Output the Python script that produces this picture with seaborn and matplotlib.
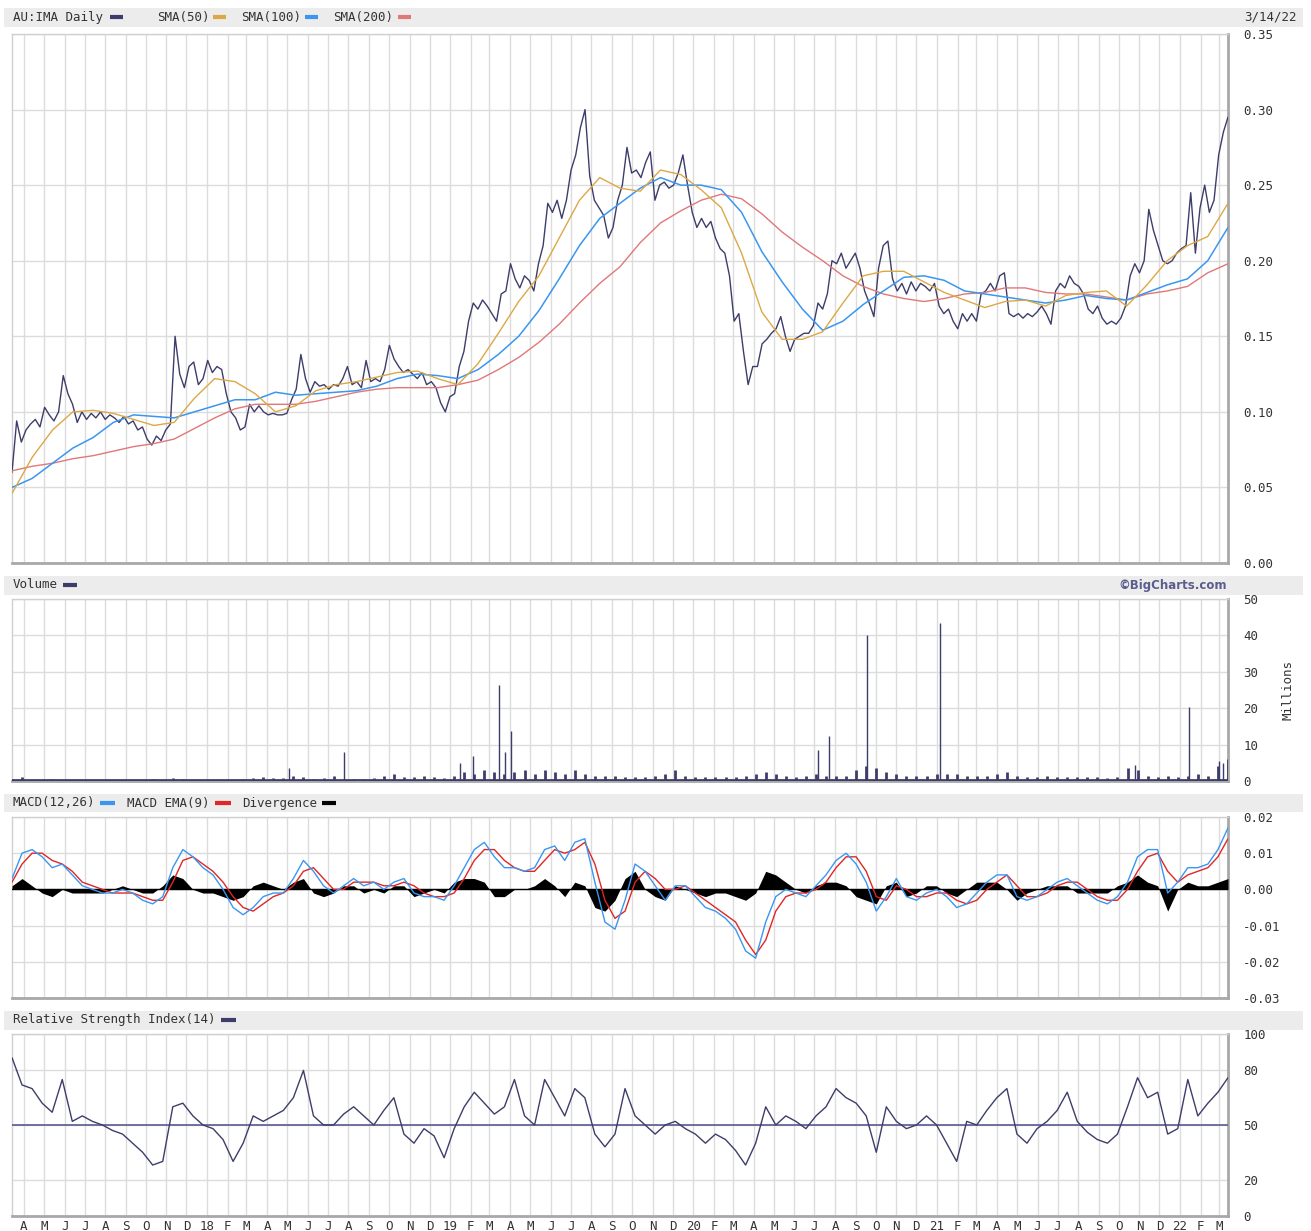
import matplotlib
matplotlib.use("Agg")
import matplotlib.pyplot as plt
import matplotlib.dates as mdates
from matplotlib.lines import Line2D
from matplotlib.patches import Rectangle
from matplotlib.ticker import FixedLocator, FuncFormatter
import numpy as np
import pandas as pd
import seaborn as sns

START, END = "2017-03-14", "2022-03-14"

# weekly closing price (AUD)
price = [
    0.06, 0.094, 0.08, 0.088, 0.092, 0.095, 0.09, 0.103, 0.098, 0.094,
    0.1, 0.124, 0.112, 0.105, 0.093, 0.1, 0.095, 0.099, 0.096, 0.1,
    0.095, 0.098, 0.096, 0.093, 0.097, 0.092, 0.094, 0.088, 0.09, 0.082,
    0.078, 0.084, 0.081, 0.088, 0.092, 0.15, 0.125, 0.116, 0.13, 0.133,
    0.118, 0.122, 0.134, 0.126, 0.13, 0.128, 0.112, 0.1, 0.096, 0.088,
    0.09, 0.105, 0.1, 0.104, 0.1, 0.098, 0.099, 0.098, 0.098, 0.099,
    0.108, 0.115, 0.138, 0.122, 0.113, 0.12, 0.117, 0.118, 0.115, 0.118,
    0.117, 0.122, 0.13, 0.118, 0.12, 0.116, 0.134, 0.12, 0.122, 0.12,
    0.128, 0.144, 0.135, 0.13, 0.126, 0.128, 0.125, 0.122, 0.126, 0.118,
    0.12, 0.116, 0.106, 0.1, 0.11, 0.112, 0.13, 0.14, 0.16, 0.172,
    0.168, 0.174, 0.17, 0.165, 0.16, 0.178, 0.18, 0.198, 0.188, 0.182,
    0.19, 0.187, 0.18, 0.198, 0.21, 0.238, 0.232, 0.24, 0.228, 0.24,
    0.26, 0.27, 0.288, 0.3, 0.256, 0.24, 0.235, 0.23, 0.215, 0.222,
    0.24, 0.25, 0.275, 0.258, 0.26, 0.255, 0.265, 0.272, 0.24, 0.25,
    0.252, 0.248, 0.25, 0.258, 0.27, 0.25, 0.232, 0.222, 0.228, 0.222,
    0.226, 0.215, 0.208, 0.205, 0.19, 0.16, 0.165, 0.14, 0.118, 0.13,
    0.13, 0.145, 0.148, 0.152, 0.155, 0.163, 0.15, 0.14, 0.148, 0.15,
    0.152, 0.152, 0.157, 0.172, 0.168, 0.178, 0.2, 0.198, 0.205, 0.195,
    0.2, 0.205, 0.195, 0.18, 0.172, 0.163, 0.195, 0.21, 0.213, 0.188,
    0.18, 0.185, 0.178, 0.186, 0.18, 0.185, 0.183, 0.18, 0.185, 0.17,
    0.165, 0.168, 0.16, 0.155, 0.165, 0.16, 0.165, 0.16, 0.178, 0.18,
    0.185, 0.18, 0.19, 0.192, 0.165, 0.163, 0.165, 0.162, 0.165, 0.163,
    0.166, 0.17, 0.165, 0.158, 0.18, 0.185, 0.182, 0.19, 0.185, 0.183,
    0.178, 0.168, 0.165, 0.17, 0.162, 0.158, 0.16, 0.158, 0.162, 0.17,
    0.19, 0.198, 0.192, 0.2, 0.234, 0.22, 0.21, 0.2, 0.198, 0.2,
    0.205, 0.208, 0.21, 0.245, 0.205, 0.235, 0.25, 0.232, 0.24, 0.27,
    0.285, 0.295,
]

# moving averages, one reading per month
sma50 = [
    0.046, 0.07, 0.088, 0.1, 0.101, 0.099, 0.095, 0.091, 0.093, 0.109,
    0.122, 0.12, 0.112, 0.1, 0.104, 0.114, 0.118, 0.12, 0.123, 0.126,
    0.127, 0.122, 0.118, 0.132, 0.152, 0.173, 0.19, 0.215, 0.24, 0.255,
    0.248, 0.246, 0.26, 0.257, 0.247, 0.235, 0.205, 0.166, 0.148, 0.148,
    0.153, 0.172, 0.19, 0.193, 0.193, 0.186, 0.179, 0.174, 0.169, 0.173,
    0.174, 0.17, 0.177, 0.179, 0.18, 0.17, 0.184, 0.2, 0.21, 0.216,
    0.238,
]
sma100 = [
    0.05, 0.056, 0.066, 0.076, 0.083, 0.093, 0.098, 0.097, 0.096, 0.1,
    0.104, 0.108, 0.108, 0.113, 0.111, 0.112, 0.113, 0.114, 0.117, 0.122,
    0.125, 0.124, 0.122, 0.128, 0.138, 0.15, 0.167, 0.188, 0.21, 0.228,
    0.238, 0.248, 0.255, 0.25, 0.25, 0.247, 0.232, 0.206, 0.186, 0.168,
    0.154, 0.16, 0.171, 0.18, 0.189, 0.19, 0.187, 0.18, 0.178, 0.176,
    0.174, 0.172, 0.174, 0.177, 0.175, 0.174, 0.179, 0.184, 0.188, 0.2,
    0.222,
]
sma200 = [
    0.061, 0.064, 0.066, 0.069, 0.071, 0.074, 0.077, 0.079, 0.082, 0.089,
    0.096, 0.102, 0.105, 0.105, 0.105, 0.107, 0.11, 0.113, 0.115, 0.116,
    0.116, 0.116, 0.118, 0.121, 0.128, 0.136, 0.146, 0.158, 0.172, 0.185,
    0.196, 0.212, 0.225, 0.233, 0.24, 0.244, 0.241, 0.231, 0.219, 0.209,
    0.2, 0.19, 0.183, 0.178, 0.175, 0.173, 0.175, 0.178, 0.179, 0.182,
    0.182, 0.179, 0.178, 0.178, 0.176, 0.174, 0.178, 0.18, 0.183, 0.192,
    0.198,
]

# volume in millions: typical level twice a month, plus single-day spikes
vol_base = [
    0.5, 1.0, 0.3, 0.3, 0.5, 0.3, 0.2, 0.3, 0.3, 0.4,
    0.3, 0.2, 0.3, 0.3, 0.5, 0.4, 0.8, 0.5, 0.3, 0.3,
    0.3, 0.3, 0.4, 0.6, 0.8, 1.0, 0.7, 0.8, 1.5, 1.0,
    0.6, 0.8, 1.5, 0.5, 0.6, 0.5, 0.8, 1.5, 1.8, 1.2,
    1.0, 1.5, 1.0, 0.8, 1.5, 2.5, 2.0, 3.0, 2.5, 2.0,
    2.5, 3.0, 2.0, 3.0, 2.5, 2.0, 3.0, 2.0, 1.5, 1.5,
    1.5, 1.2, 1.0, 1.2, 1.5, 2.0, 3.0, 1.5, 1.0, 1.0,
    1.2, 1.0, 1.0, 1.5, 2.0, 2.5, 2.0, 1.5, 1.2, 1.5,
    2.0, 1.5, 1.5, 1.5, 3.0, 4.0, 3.5, 2.5, 2.0, 1.5,
    1.5, 1.5, 2.0, 2.0, 2.0, 1.5, 1.5, 1.5, 2.0, 2.5,
    1.5, 1.0, 1.0, 1.5, 1.0, 1.2, 1.0, 1.0, 1.0, 0.8,
    1.0, 3.5, 3.0, 1.5, 1.0, 1.5, 1.0, 1.5, 2.0, 1.5,
    4.0, 6.0,
]
spike_dates = ["2018-05-04", "2018-07-25", "2019-01-15", "2019-02-04",
               "2019-03-16", "2019-03-24", "2019-04-02", "2020-07-06",
               "2020-07-23", "2020-09-18", "2021-01-06", "2021-10-26",
               "2022-01-14", "2022-03-01", "2022-03-06"]
spike_vols = [3.6, 8.0, 5.0, 7.0, 26.5, 8.0, 13.7, 8.4,
              12.3, 40.0, 43.3, 4.5, 20.4, 5.6, 5.0]

# MACD panel, twice a month
macd = [
    0.003, 0.010, 0.011, 0.009, 0.006, 0.007, 0.004, 0.001, 0.000, -0.001,
    -0.001, 0.000, -0.001, -0.003, -0.004, -0.002, 0.006, 0.011, 0.009, 0.006,
    0.004, 0.000, -0.005, -0.007, -0.005, -0.002, -0.001, -0.001, 0.003, 0.008,
    0.005, 0.001, -0.001, 0.001, 0.003, 0.001, 0.002, 0.000, 0.002, 0.003,
    -0.001, -0.002, -0.002, -0.003, 0.001, 0.006, 0.011, 0.013, 0.009, 0.006,
    0.006, 0.005, 0.006, 0.011, 0.012, 0.008, 0.013, 0.014, 0.002, -0.009,
    -0.011, -0.003, 0.007, 0.005, 0.001, -0.003, 0.001, 0.001, -0.002, -0.005,
    -0.006, -0.008, -0.011, -0.017, -0.019, -0.009, -0.002, 0.000, -0.001, -0.002,
    0.001, 0.004, 0.008, 0.010, 0.007, 0.002, -0.006, -0.002, 0.003, -0.002,
    -0.003, -0.001, 0.000, -0.002, -0.005, -0.004, -0.001, 0.002, 0.004, 0.004,
    -0.002, -0.003, -0.002, 0.000, 0.002, 0.003, 0.001, -0.001, -0.003, -0.004,
    -0.002, 0.002, 0.009, 0.011, 0.011, -0.001, 0.002, 0.006, 0.006, 0.007,
    0.011, 0.017,
]
macd_ema = [
    0.002, 0.007, 0.010, 0.010, 0.008, 0.007, 0.005, 0.002, 0.001, 0.000,
    -0.001, -0.001, -0.001, -0.002, -0.003, -0.003, 0.002, 0.008, 0.009, 0.007,
    0.005, 0.002, -0.002, -0.005, -0.006, -0.004, -0.002, -0.001, 0.001, 0.005,
    0.006, 0.003, 0.000, 0.000, 0.002, 0.002, 0.002, 0.001, 0.001, 0.002,
    0.001, -0.001, -0.002, -0.002, -0.001, 0.003, 0.008, 0.011, 0.011, 0.008,
    0.006, 0.005, 0.005, 0.008, 0.011, 0.010, 0.011, 0.013, 0.007, -0.003,
    -0.008, -0.006, 0.002, 0.005, 0.003, 0.000, 0.000, 0.001, -0.001, -0.003,
    -0.005, -0.007, -0.009, -0.014, -0.018, -0.014, -0.006, -0.002, -0.001, -0.001,
    0.000, 0.002, 0.006, 0.009, 0.009, 0.005, -0.002, -0.003, 0.001, 0.000,
    -0.002, -0.002, -0.001, -0.001, -0.003, -0.004, -0.003, 0.000, 0.002, 0.004,
    0.001, -0.002, -0.002, -0.001, 0.001, 0.002, 0.002, 0.000, -0.002, -0.003,
    -0.003, 0.000, 0.005, 0.009, 0.010, 0.005, 0.002, 0.004, 0.005, 0.006,
    0.009, 0.014,
]
divergence = [
    0.001, 0.003, 0.001, -0.001, -0.002, 0.000, -0.001, -0.001, -0.001, -0.001,
    0.000, 0.001, 0.000, -0.001, -0.001, 0.001, 0.004, 0.003, 0.000, -0.001,
    -0.001, -0.002, -0.003, -0.002, 0.001, 0.002, 0.001, 0.000, 0.002, 0.003,
    -0.001, -0.002, -0.001, 0.001, 0.001, -0.001, 0.000, -0.001, 0.001, 0.001,
    -0.002, -0.001, 0.000, -0.001, 0.002, 0.003, 0.003, 0.002, -0.002, -0.002,
    0.000, 0.000, 0.001, 0.003, 0.001, -0.002, 0.002, 0.001, -0.005, -0.006,
    -0.003, 0.003, 0.005, 0.000, -0.002, -0.003, 0.001, 0.000, -0.001, -0.002,
    -0.001, -0.001, -0.002, -0.003, -0.001, 0.005, 0.004, 0.002, 0.000, -0.001,
    0.001, 0.002, 0.002, 0.001, -0.002, -0.003, -0.004, 0.001, 0.002, -0.002,
    -0.001, 0.001, 0.001, -0.001, -0.002, 0.000, 0.002, 0.002, 0.002, 0.000,
    -0.003, -0.001, 0.000, 0.001, 0.001, 0.001, -0.001, -0.001, -0.001, -0.001,
    0.001, 0.002, 0.004, 0.002, 0.001, -0.006, 0.000, 0.002, 0.001, 0.001,
    0.002, 0.003,
]

# RSI(14), twice a month
rsi = [
    87, 72, 70, 62, 57, 75, 52, 55, 52, 50,
    47, 45, 40, 35, 28, 30, 60, 62, 55, 50,
    48, 42, 30, 40, 55, 52, 55, 58, 65, 80,
    55, 50, 50, 56, 60, 55, 50, 58, 65, 45,
    40, 48, 44, 32, 48, 60, 68, 62, 56, 60,
    75, 55, 50, 75, 65, 55, 70, 65, 45, 38,
    45, 70, 55, 50, 45, 50, 52, 48, 45, 40,
    45, 42, 36, 28, 40, 60, 50, 55, 52, 48,
    55, 60, 70, 65, 62, 55, 35, 60, 52, 48,
    50, 55, 50, 40, 30, 52, 50, 58, 65, 70,
    45, 40, 48, 52, 58, 68, 52, 46, 42, 40,
    45, 60, 76, 65, 68, 45, 48, 75, 55, 62,
    68, 76,
]

NAVY = "#3d3d6b"
ORANGE = "#dca846"
BLUE = "#3a96f0"
PINK = "#e07878"
RED = "#e02626"
GRID = "#dcdcdc"
TXT = "#333333"

sns.set_style("white")
plt.rcParams["font.family"] = ["DejaVu Sans Mono", "DejaVu Sans"]
plt.rcParams["font.size"] = 9

W, H = 1311, 1231
fig = plt.figure(figsize=(W / 100, H / 100), dpi=100)


def rect(x0, y0, x1, y1):
    return [x0 / W, 1 - y1 / H, (x1 - x0) / W, (y1 - y0) / H]


def fy(y):
    return 1 - y / H


ax_p = fig.add_axes(rect(12, 34, 1228, 563))
ax_v = fig.add_axes(rect(12, 599, 1228, 781), sharex=ax_p)
ax_m = fig.add_axes(rect(12, 817, 1228, 998), sharex=ax_p)
ax_r = fig.add_axes(rect(12, 1034, 1228, 1216), sharex=ax_p)

wk = pd.date_range(START, END, periods=len(price))
mo = pd.date_range(START, END, periods=len(sma50))
half = pd.date_range(START, END, periods=len(macd))

# price panel
sns.lineplot(x=wk, y=price, ax=ax_p, color=NAVY, lw=1.0, zorder=3)
sns.lineplot(x=mo, y=sma200, ax=ax_p, color=PINK, lw=1.0, zorder=4)
sns.lineplot(x=mo, y=sma100, ax=ax_p, color=BLUE, lw=1.1, zorder=5)
sns.lineplot(x=mo, y=sma50, ax=ax_p, color=ORANGE, lw=1.0, zorder=6)
ax_p.set_ylim(0, 0.35)
ax_p.yaxis.set_major_locator(FixedLocator(np.arange(0, 0.351, 0.05)))
ax_p.yaxis.set_major_formatter(FuncFormatter(lambda v, p: f"{v:.2f}"))

# volume panel
ax_v.vlines(half, 0, vol_base, color=NAVY, lw=2.0, zorder=3)
ax_v.vlines(pd.to_datetime(spike_dates), 0, spike_vols, color=NAVY, lw=1.0, zorder=3)
ax_v.axhline(0.3, color=NAVY, lw=2.0, zorder=3)
ax_v.set_ylim(0, 50)
ax_v.yaxis.set_major_locator(FixedLocator([0, 10, 20, 30, 40, 50]))

# MACD panel
ax_m.fill_between(half, 0, divergence, color="black", lw=0, zorder=3)
ax_m.axhline(0, color="black", lw=1.0, zorder=3)
sns.lineplot(x=half, y=macd_ema, ax=ax_m, color=RED, lw=1.0, zorder=4)
sns.lineplot(x=half, y=macd, ax=ax_m, color=BLUE, lw=1.0, zorder=5)
ax_m.set_ylim(-0.03, 0.02)
ax_m.yaxis.set_major_locator(FixedLocator([-0.03, -0.02, -0.01, 0.0, 0.01, 0.02]))
ax_m.yaxis.set_major_formatter(FuncFormatter(lambda v, p: f"{v:.2f}".replace("-0.00", "0.00")))

# RSI panel
sns.lineplot(x=half, y=rsi, ax=ax_r, color=NAVY, lw=1.0, zorder=4)
ax_r.axhline(50, color="#5a5a90", lw=1.2, zorder=3)
ax_r.set_ylim(0, 100)
ax_r.yaxis.set_major_locator(FixedLocator([0, 20, 50, 80, 100]))

letters = "JFMAMJJASOND"


def month_label(x, pos):
    d = mdates.num2date(x)
    return f"{d.year % 100:02d}" if d.month == 1 else letters[d.month - 1]


for ax in (ax_p, ax_v, ax_m, ax_r):
    ax.set_xlim(pd.Timestamp(START), pd.Timestamp(END))
    ax.xaxis.set_major_locator(mdates.MonthLocator())
    ax.grid(True, color=GRID, lw=1.0, zorder=0)
    ax.set_xlabel("")
    ax.set_ylabel("")
    ax.yaxis.tick_right()
    ax.tick_params(axis="y", length=0, pad=11, labelsize=9, labelcolor=TXT)
    ax.tick_params(axis="x", length=0, labelbottom=False)
    for s in ("left", "top"):
        ax.spines[s].set_color("#d0d0d0")
        ax.spines[s].set_linewidth(1.0)
    for s in ("right", "bottom"):
        ax.spines[s].set_color("#a8a8a8")
        ax.spines[s].set_linewidth(2.0)

ax_r.xaxis.set_major_formatter(FuncFormatter(month_label))
ax_r.tick_params(axis="x", labelbottom=True, pad=3, labelsize=9, labelcolor=TXT)

# grey header bands with legends
for y0, y1 in ((8, 27), (576, 595), (794, 812), (1011, 1030)):
    fig.add_artist(Rectangle((4 / W, fy(y1)), 1299 / W, (y1 - y0) / H,
                             transform=fig.transFigure, color="#ececec", lw=0, zorder=0))


def legend_item(x_text, x0, x1, y, label, color):
    fig.text(x_text / W, fy(y), label, va="center", ha="left", fontsize=9, color=TXT)
    fig.add_artist(Line2D([x0 / W, x1 / W], [fy(y), fy(y)], transform=fig.transFigure,
                          color=color, lw=3, solid_capstyle="butt"))


legend_item(13, 110, 123, 17, "AU:IMA Daily", NAVY)
legend_item(157, 213, 226, 17, "SMA(50)", ORANGE)
legend_item(241, 305, 318, 17, "SMA(100)", BLUE)
legend_item(333, 398, 411, 17, "SMA(200)", PINK)
fig.text(1297 / W, fy(17), "3/14/22", ha="right", va="center", fontsize=9, color=TXT)

legend_item(13, 63, 77, 585, "Volume", NAVY)
fig.text(1227 / W, fy(585), "\u00a9BigCharts.com", ha="right", va="center",
         fontsize=8.5, fontweight="bold", color="#5c5c8e", family="DejaVu Sans")
fig.text(1288 / W, fy(690), "Millions", rotation=90, ha="center", va="center",
         fontsize=9, color=TXT)

legend_item(13, 100, 115, 803, "MACD(12,26)", BLUE)
legend_item(127, 215, 231, 803, "MACD EMA(9)", RED)
legend_item(242, 322, 336, 803, "Divergence", "black")

legend_item(13, 221, 236, 1020, "Relative Strength Index(14)", NAVY)

fig.savefig("out.png", dpi=100, facecolor="white")
